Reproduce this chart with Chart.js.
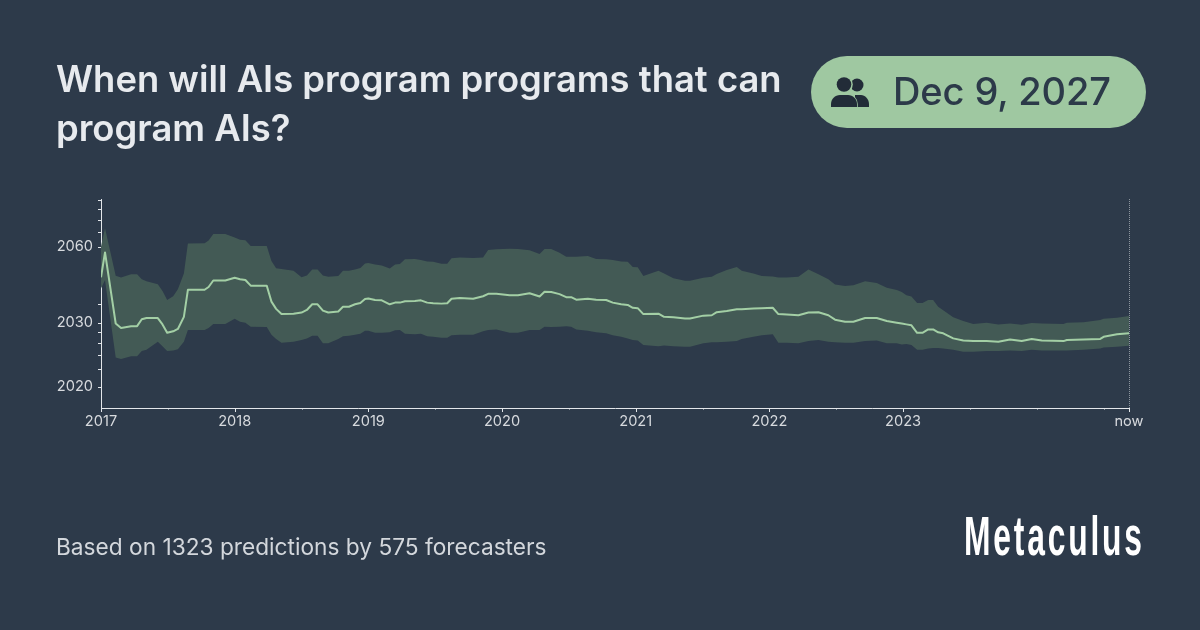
<!DOCTYPE html>
<html>
<head>
<meta charset="utf-8">
<script src="https://cdn.jsdelivr.net/npm/chart.js@4/dist/chart.umd.min.js"></script>
<style>
  html, body { margin: 0; padding: 0; background: #2d3a4a; }
  #page { position: relative; width: 1200px; height: 630px; overflow: hidden; font-family: Inter, sans-serif; }
  canvas { position: absolute; left: 0; top: 0; }
  #title { position: absolute; left: 56px; top: 55px; width: 745px; font-size: 36.4px; line-height: 49px; font-weight: 600; color: #e7eaee; }
  #pill { position: absolute; left: 811px; top: 56px; width: 335px; height: 72px; border-radius: 36px; background: #9fc8a1; }
  #pill svg { position: absolute; left: 20px; top: 21px; }
  #pill span { position: absolute; left: 82px; top: 12px; font-size: 38px; line-height: 46px; font-weight: 500; letter-spacing: -0.1px; color: #2c3a49; white-space: nowrap; }
  #footer { position: absolute; left: 56px; top: 533px; font-size: 22.7px; line-height: 27px; color: #d3d7dc; white-space: nowrap; }
  #logo { position: absolute; left: 964px; top: 504px; font-family: "Liberation Sans Narrow", "Liberation Sans", sans-serif; font-weight: 700; font-size: 56px; line-height: 64px; letter-spacing: 5px; color: #fff; transform-origin: left top; transform: scaleX(.567); white-space: nowrap; }
</style>
</head>
<body>
<div id="page">
  <canvas id="myChart" width="1200" height="630"></canvas>
  <div id="title">When will AIs program programs that can program AIs?</div>
  <div id="pill">
    <svg width="38" height="30" viewBox="0 0 38 30">
      <circle cx="26" cy="8" r="6.5" fill="#222c38"/>
      <path d="M24 18h6c4 0 8 4 8 9v3H24z" fill="#222c38"/>
      <circle cx="13" cy="7.5" r="8.8" fill="#9fc8a1"/>
      <circle cx="13" cy="7.5" r="7.3" fill="#222c38"/>
      <path d="M0 30v-3c0-5 4-9 9-9h8c5 0 9 4 9 9v3z" fill="#222c38" stroke="#9fc8a1" stroke-width="1.5" paint-order="stroke"/>
    </svg>
    <span>Dec 9, 2027</span>
  </div>
  <div id="footer">Based on 1323 predictions by 575 forecasters</div>
  <div id="logo">Metaculus</div>
</div>
<script>
const dates = [
  2017.00, 2017.03, 2017.11, 2017.15, 2017.225, 2017.27, 2017.305, 2017.34, 2017.425, 2017.46, 2017.495, 2017.54, 2017.575, 2017.62, 2017.65, 2017.775, 2017.805, 2017.84, 2017.93,
  2018.00, 2018.04, 2018.08, 2018.12, 2018.24, 2018.275, 2018.31, 2018.35, 2018.44, 2018.50, 2018.54, 2018.58, 2018.62, 2018.66, 2018.70, 2018.775, 2018.81, 2018.855, 2018.90, 2018.94, 2018.975,
  2019.00, 2019.05, 2019.10, 2019.16, 2019.20, 2019.236, 2019.274, 2019.348, 2019.393, 2019.44, 2019.485, 2019.547, 2019.59, 2019.622, 2019.684, 2019.784, 2019.858, 2019.896, 2019.958,
  2020.057, 2020.119, 2020.206, 2020.281, 2020.318, 2020.368, 2020.43, 2020.48, 2020.517, 2020.555, 2020.642, 2020.704, 2020.779, 2020.828, 2020.891, 2020.94, 2020.978,
  2021.015, 2021.057, 2021.17, 2021.212, 2021.282, 2021.369, 2021.406, 2021.506, 2021.569, 2021.606, 2021.681, 2021.756, 2021.793, 2021.88, 2021.943,
  2022.025, 2022.067, 2022.13, 2022.217, 2022.292, 2022.367, 2022.441, 2022.491, 2022.566, 2022.628, 2022.716, 2022.803, 2022.878, 2022.953, 2022.99,
  2023.025, 2023.0625, 2023.105, 2023.145, 2023.1875, 2023.225, 2023.2625, 2023.30, 2023.375, 2023.45, 2023.525, 2023.625, 2023.7125, 2023.80, 2023.8875, 2023.9625,
  2024.0375, 2024.20, 2024.225, 2024.35, 2024.475, 2024.50, 2024.60, 2024.6925
];
const median = [
  2044.4, 2056.7, 2029.9, 2028.9, 2029.3, 2029.3, 2030.9, 2031.2, 2031.2, 2029.7, 2027.9, 2028.2, 2028.7, 2031.5, 2039.6, 2039.6, 2040.6, 2043.1, 2043.1,
  2044.2, 2043.6, 2043.3, 2041.1, 2041.1, 2035.7, 2033.6, 2032.2, 2032.3, 2032.6, 2033.3, 2034.9, 2034.9, 2033.1, 2032.6, 2032.9, 2034.2, 2034.2, 2034.9, 2035.3, 2036.5,
  2036.7, 2036.2, 2036.1, 2034.9, 2035.4, 2035.4, 2035.8, 2035.9, 2036.1, 2035.4, 2035.2, 2035.1, 2035.2, 2036.6, 2036.8, 2036.6, 2037.4, 2038.2, 2038.2,
  2037.7, 2037.7, 2038.4, 2037.3, 2038.9, 2038.8, 2038.1, 2037.1, 2037.1, 2036.3, 2036.6, 2036.3, 2036.2, 2035.4, 2034.9, 2034.7, 2033.9,
  2033.8, 2032.2, 2032.3, 2031.5, 2031.4, 2031.1, 2031.1, 2031.8, 2031.9, 2032.7, 2033.0, 2033.5, 2033.5, 2033.7, 2033.8,
  2033.9, 2032.2, 2032.1, 2031.9, 2032.6, 2032.7, 2031.9, 2030.8, 2030.3, 2030.3, 2031.2, 2031.2, 2030.5, 2030.1, 2029.9,
  2029.7, 2029.5, 2027.9, 2027.9, 2028.6, 2028.6, 2028.0, 2027.8, 2026.8, 2026.4, 2026.3, 2026.3, 2026.2, 2026.6, 2026.3, 2026.7,
  2026.4, 2026.3, 2026.5, 2026.6, 2026.7, 2027.1, 2027.6, 2027.8
];
const upper = [
  2060.2, 2073.1, 2045.1, 2044.3, 2045.7, 2045.7, 2043.6, 2042.8, 2041.6, 2039.2, 2036.2, 2037.4, 2039.8, 2046.1, 2062.1, 2062.3, 2064.1, 2068.8, 2068.8,
  2066.2, 2064.7, 2064.3, 2060.6, 2060.6, 2052.0, 2048.4, 2048.1, 2047.3, 2044.4, 2045.2, 2047.9, 2047.9, 2045.2, 2044.6, 2045.0, 2047.3, 2047.3, 2047.9, 2048.6, 2050.8,
  2051.0, 2050.2, 2049.8, 2048.3, 2050.2, 2050.5, 2052.9, 2053.0, 2052.5, 2051.8, 2051.6, 2050.6, 2050.6, 2053.4, 2053.8, 2053.6, 2053.8, 2058.1, 2058.5,
  2058.9, 2058.7, 2057.9, 2055.8, 2058.7, 2058.7, 2056.5, 2054.3, 2054.3, 2054.3, 2054.7, 2053.0, 2052.9, 2052.5, 2051.8, 2051.6, 2049.0,
  2048.9, 2045.0, 2047.3, 2046.1, 2044.0, 2043.0, 2043.0, 2044.2, 2044.7, 2045.8, 2047.6, 2049.0, 2047.3, 2046.1, 2045.0,
  2044.8, 2044.3, 2044.3, 2044.7, 2047.9, 2045.7, 2043.6, 2041.5, 2041.0, 2041.3, 2042.8, 2042.1, 2040.3, 2039.5, 2038.8,
  2037.7, 2037.3, 2035.3, 2035.3, 2036.2, 2036.2, 2034.2, 2033.2, 2031.4, 2030.5, 2029.8, 2030.1, 2029.7, 2029.9, 2029.6, 2030.0,
  2029.9, 2029.8, 2030.1, 2030.2, 2030.7, 2031.0, 2031.3, 2031.7
];
const lower = [
  2040.1, 2043.3, 2023.6, 2023.4, 2023.8, 2023.8, 2024.6, 2024.8, 2026.2, 2025.4, 2024.6, 2024.7, 2024.9, 2026.2, 2028.5, 2028.5, 2028.9, 2029.8, 2029.8,
  2031.0, 2030.3, 2030.1, 2029.2, 2029.1, 2027.5, 2026.7, 2026.0, 2026.2, 2026.5, 2026.8, 2027.3, 2027.3, 2025.9, 2025.9, 2026.7, 2027.2, 2027.3, 2027.5, 2027.7, 2028.3,
  2028.3, 2027.9, 2027.9, 2028.0, 2028.4, 2028.5, 2027.7, 2027.6, 2027.7, 2027.2, 2027.1, 2026.9, 2026.9, 2027.4, 2027.5, 2027.5, 2028.2, 2028.5, 2028.6,
  2027.9, 2027.9, 2028.5, 2028.5, 2029.2, 2029.1, 2029.2, 2029.3, 2029.2, 2028.6, 2028.3, 2028.0, 2027.8, 2027.4, 2027.1, 2026.8, 2026.5,
  2026.4, 2025.6, 2025.4, 2025.5, 2025.4, 2025.3, 2025.3, 2025.9, 2026.1, 2026.1, 2026.2, 2026.3, 2026.7, 2027.1, 2027.4,
  2027.6, 2026.0, 2026.0, 2025.9, 2026.3, 2026.5, 2026.2, 2026.1, 2026.0, 2026.0, 2026.3, 2026.4, 2025.9, 2025.9, 2025.7,
  2025.8, 2025.6, 2024.8, 2024.8, 2025.0, 2025.1, 2025.1, 2025.0, 2024.8, 2024.5, 2024.5, 2024.6, 2024.6, 2024.7, 2024.6, 2024.8,
  2024.7, 2024.7, 2024.7, 2024.8, 2025.0, 2025.2, 2025.3, 2025.5
];

const xTicks = [2017, 2017.5, 2018, 2018.5, 2019, 2019.5, 2020, 2020.5, 2021, 2021.5, 2022, 2022.5, 2023, 2023.5, 2024, 2024.5, 2024.69];
const xLabels = {2017: '2017', 2018: '2018', 2019: '2019', 2020: '2020', 2021: '2021', 2022: '2022', 2023: '2023', 2024.69: 'now'};
const yTicks = [2020, 2022, 2024, 2026, 2028, 2030, 2035, 2060, 2070, 2080, 2090, 2100];
const yLabels = [2020, 2030, 2060];

// the question's date axis is log-like, measured from a year a bit before it opened
const yearBase = 2012.3;
const toPoints = (values) => values.map((v, i) => ({x: dates[i], y: v - yearBase}));

const axisColor = '#e3e6ea';
const labelColor = '#d7dade';

const drawTicks = {
  id: 'drawTicks',
  afterDraw(chart) {
    const ctx = chart.ctx;
    const {left, right, top, bottom} = chart.chartArea;
    ctx.save();
    ctx.strokeStyle = axisColor;
    ctx.lineWidth = 1;
    chart.scales.x.ticks.forEach((t) => {
      const px = Math.round(chart.scales.x.getPixelForValue(t.value)) + 0.5;
      const len = xLabels[t.value] ? 4 : 1.5;
      ctx.beginPath();
      ctx.moveTo(px, bottom);
      ctx.lineTo(px, bottom + len);
      ctx.stroke();
    });
    chart.scales.y.ticks.forEach((t) => {
      const py = Math.round(chart.scales.y.getPixelForValue(t.value)) + 0.5;
      ctx.beginPath();
      ctx.moveTo(left, py);
      ctx.lineTo(left - 3, py);
      ctx.stroke();
    });
    // dotted line at "now"
    ctx.strokeStyle = '#8d969f';
    ctx.setLineDash([1, 1]);
    ctx.beginPath();
    ctx.moveTo(right + 0.5, top);
    ctx.lineTo(right + 0.5, bottom);
    ctx.stroke();
    ctx.restore();
  }
};

const config = {
  type: 'line',
  data: {
    datasets: [
      {label: 'median', data: toPoints(median), borderColor: '#a3cfa5', borderWidth: 2, borderJoinStyle: 'round', pointRadius: 0, fill: false},
      {label: 'upper', data: toPoints(upper), borderWidth: 0, pointRadius: 0, backgroundColor: '#435a55', fill: '+1'},
      {label: 'lower', data: toPoints(lower), borderWidth: 0, pointRadius: 0, fill: false}
    ]
  },
  options: {
    responsive: false,
    animation: false,
    layout: {padding: {left: 0, top: 199, right: 71, bottom: 0}},
    plugins: {legend: {display: false}, tooltip: {enabled: false}},
    scales: {
      x: {
        type: 'linear',
        min: 2017,
        max: 2024.69,
        grid: {display: false, drawTicks: false},
        border: {color: axisColor, width: 1},
        afterBuildTicks: (scale) => { scale.ticks = xTicks.map((v) => ({value: v})); },
        afterFit: (scale) => { scale.height = 222; },
        ticks: {
          autoSkip: false, maxRotation: 0, minRotation: 0, padding: 5, color: labelColor,
          font: {family: 'Inter', size: 14.6},
          callback: (v) => xLabels[v] || ''
        }
      },
      y: {
        type: 'logarithmic',
        min: 2018.16 - yearBase,
        max: 2101.3 - yearBase,
        grid: {display: false, drawTicks: false},
        border: {color: axisColor, width: 1},
        afterBuildTicks: (scale) => { scale.ticks = yTicks.map((v) => ({value: v - yearBase})); },
        afterFit: (scale) => { scale.width = 101; },
        ticks: {
          autoSkip: false, padding: 8, color: labelColor,
          font: {family: 'Inter', size: 14.6},
          callback: (v) => {
            const year = Math.round(v + yearBase);
            return yLabels.includes(year) ? String(year) : '';
          }
        }
      }
    }
  },
  plugins: [drawTicks]
};

const myChart = new Chart(document.getElementById('myChart'), config);
</script>
</body>
</html>
